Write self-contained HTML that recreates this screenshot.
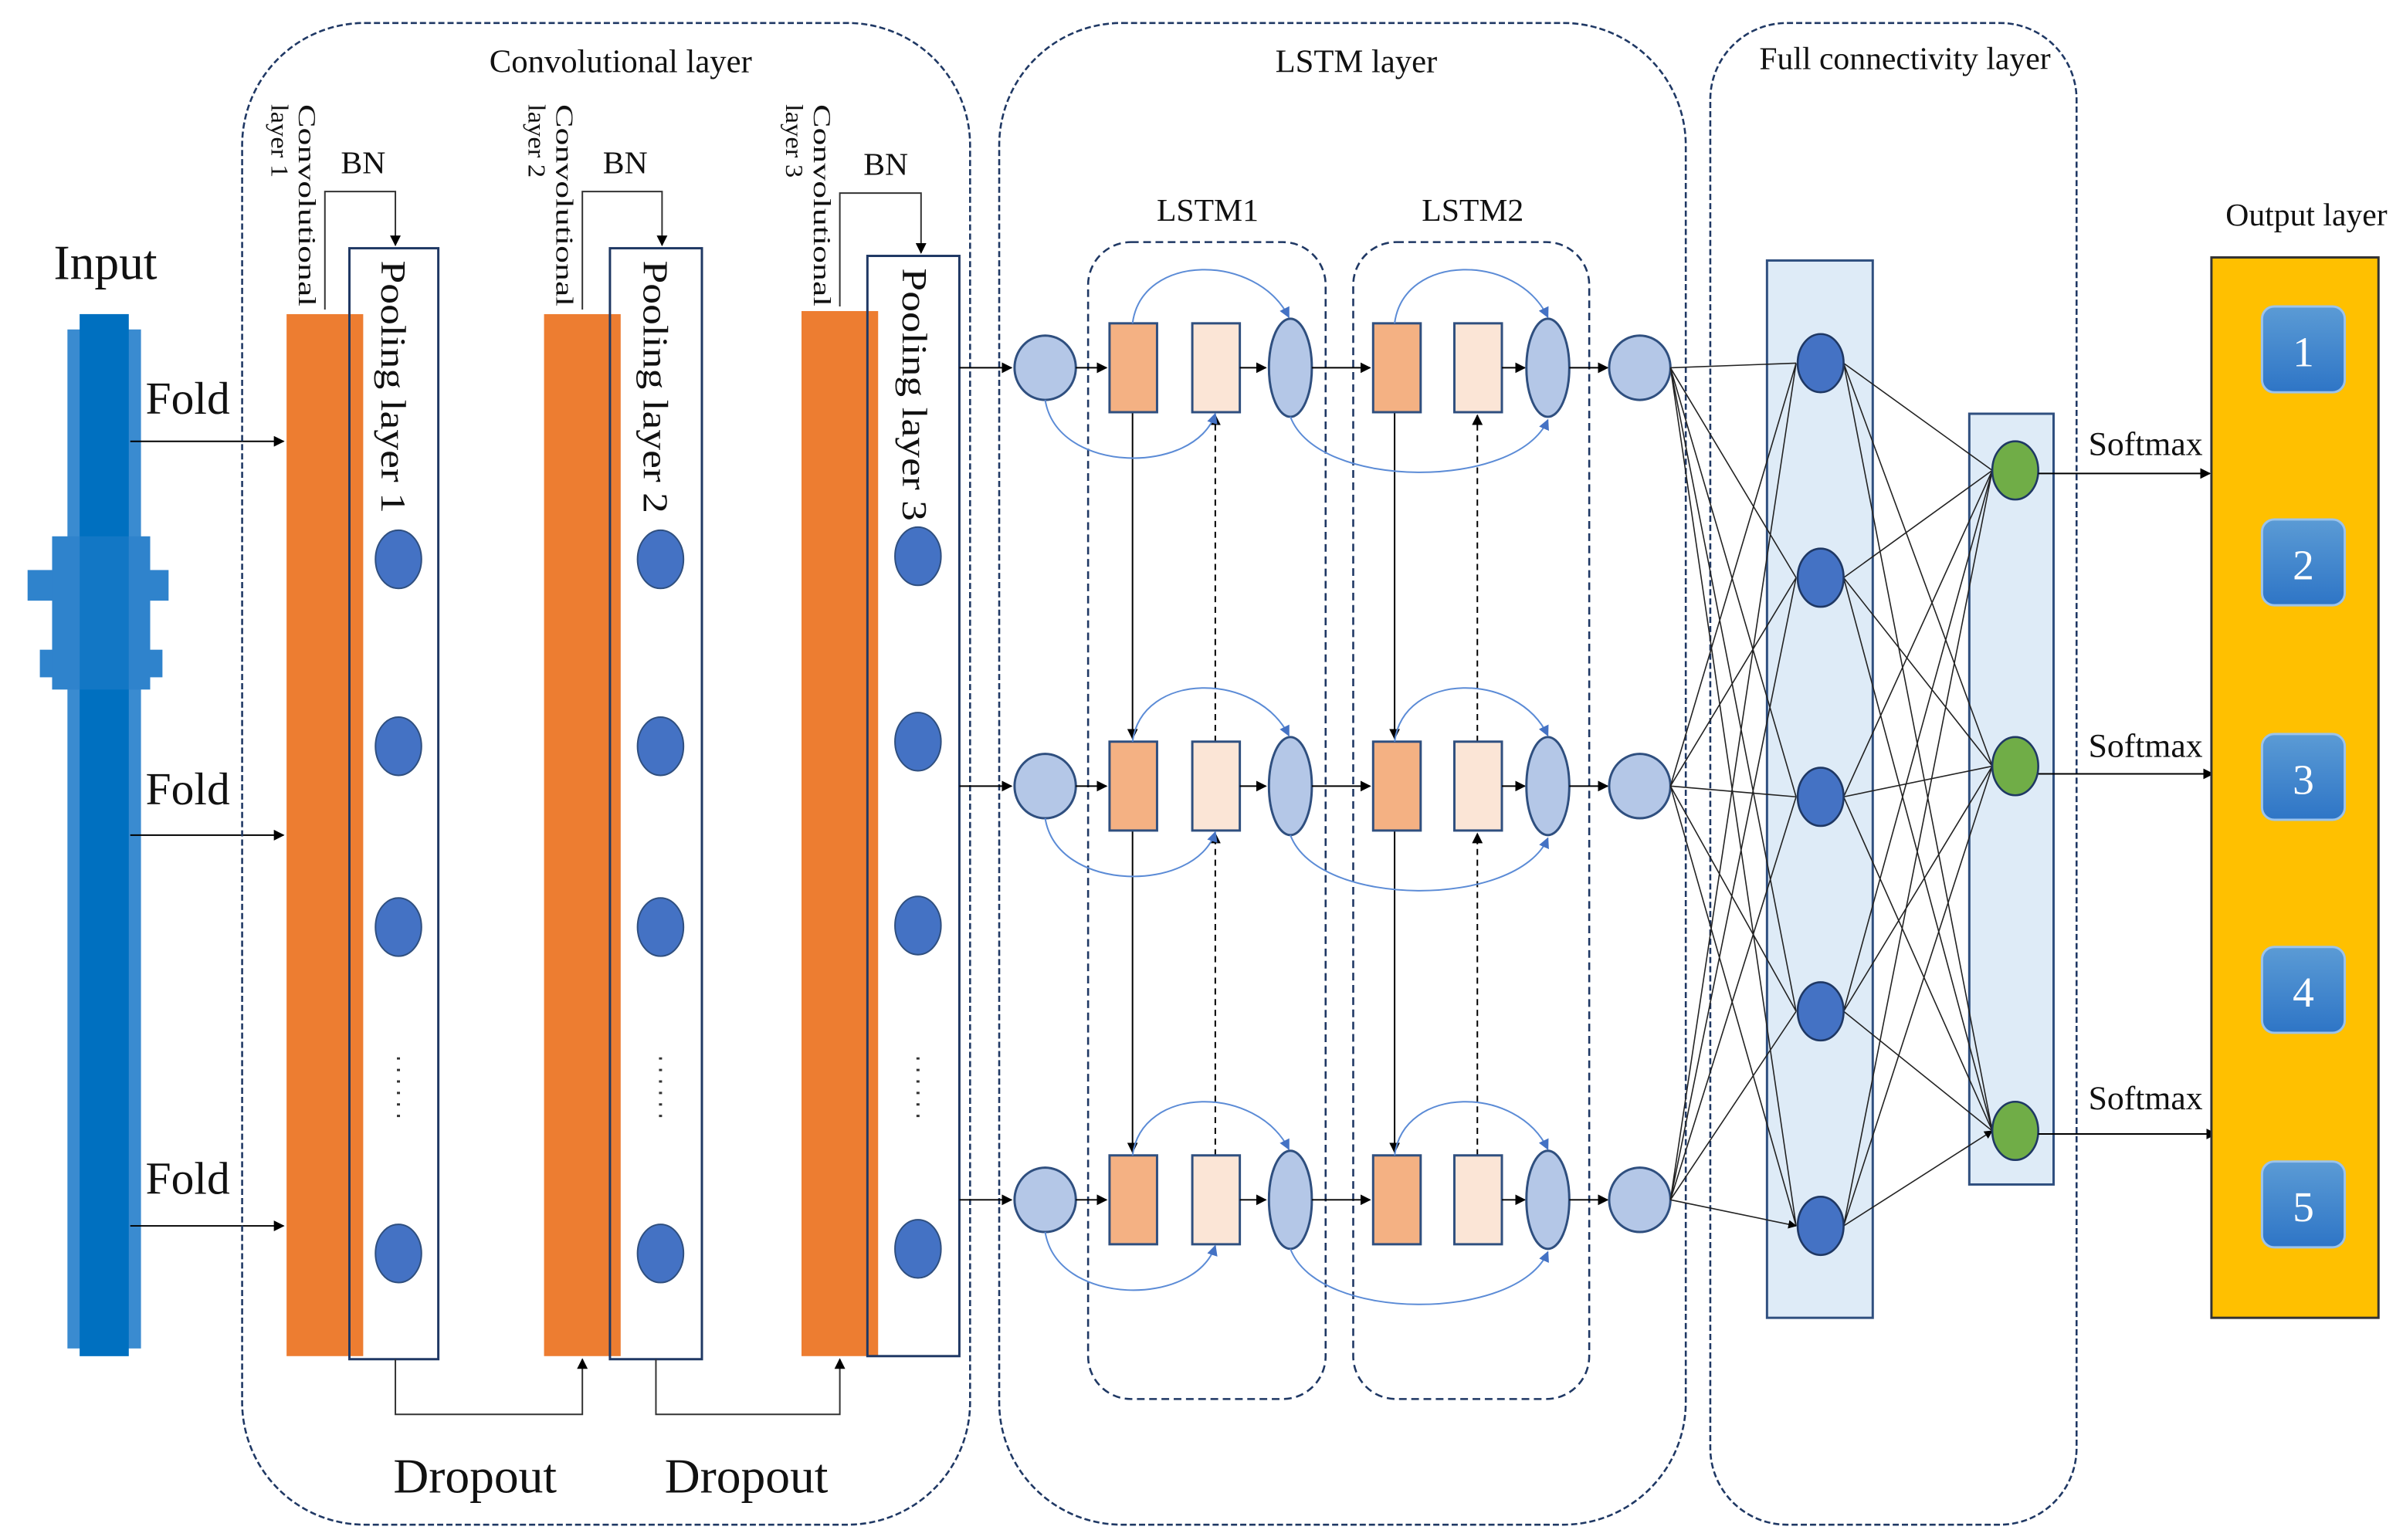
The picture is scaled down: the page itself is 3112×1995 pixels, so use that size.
<!DOCTYPE html>
<html><head><meta charset="utf-8"><style>
html,body{margin:0;padding:0;background:#fff;}
svg{display:block;}
text{font-family:"Liberation Serif",serif;fill:#111;}
</style></head><body>
<svg width="3112" height="1995" viewBox="0 0 1568 1005" preserveAspectRatio="none" xmlns="http://www.w3.org/2000/svg">
<defs>
<linearGradient id="g" x1="0" y1="0" x2="0" y2="1"><stop offset="0" stop-color="#5B9BD5"/><stop offset="1" stop-color="#2E75C6"/></linearGradient>
<marker id="a" viewBox="0 0 10 10" refX="9" refY="5" markerWidth="7" markerHeight="7" orient="auto"><path d="M0,0L10,5L0,10z" fill="#000"/></marker>
<marker id="b" viewBox="0 0 10 10" refX="9" refY="5" markerWidth="7" markerHeight="7" orient="auto"><path d="M0,0L10,5L0,10z" fill="#4472C4"/></marker>
<g id="row">
  <line x1="626" y1="0" x2="660" y2="0" stroke="#000" stroke-width="1" marker-end="url(#a)"/>
  <ellipse cx="682" cy="0" rx="20" ry="21" fill="#B4C7E7" stroke="#2F4F7F" stroke-width="1.5"/>
  <line x1="702" y1="0" x2="722" y2="0" stroke="#000" marker-end="url(#a)"/>
  <rect x="724" y="-29" width="31" height="58" fill="#F4B183" stroke="#2F4F7F" stroke-width="1.5"/>
  <rect x="778" y="-29" width="31" height="58" fill="#FBE5D6" stroke="#2F4F7F" stroke-width="1.5"/>
  <line x1="809" y1="0" x2="826" y2="0" stroke="#000" marker-end="url(#a)"/>
  <ellipse cx="842" cy="0" rx="14" ry="32" fill="#B4C7E7" stroke="#2F4F7F" stroke-width="1.5"/>
  <line x1="856" y1="0" x2="894" y2="0" stroke="#000" marker-end="url(#a)"/>
  <rect x="896" y="-29" width="31" height="58" fill="#F4B183" stroke="#2F4F7F" stroke-width="1.5"/>
  <rect x="949" y="-29" width="31" height="58" fill="#FBE5D6" stroke="#2F4F7F" stroke-width="1.5"/>
  <line x1="980" y1="0" x2="995" y2="0" stroke="#000" marker-end="url(#a)"/>
  <ellipse cx="1010" cy="0" rx="14" ry="32" fill="#B4C7E7" stroke="#2F4F7F" stroke-width="1.5"/>
  <line x1="1024" y1="0" x2="1049" y2="0" stroke="#000" marker-end="url(#a)"/>
  <ellipse cx="1070" cy="0" rx="20" ry="21" fill="#B4C7E7" stroke="#2F4F7F" stroke-width="1.5"/>
  <path d="M739,-29 C745,-75 820,-75 841,-33" fill="none" stroke="#5B8BD6" stroke-width="1" marker-end="url(#b)"/>
  <path d="M910,-29 C916,-75 990,-75 1010,-33" fill="none" stroke="#5B8BD6" stroke-width="1" marker-end="url(#b)"/>
  <path d="M682,21 C690,70 780,70 793,30" fill="none" stroke="#5B8BD6" stroke-width="1" marker-end="url(#b)"/>
  <path d="M842,32 C860,80 990,80 1010,34" fill="none" stroke="#5B8BD6" stroke-width="1" marker-end="url(#b)"/>
</g>
</defs>

<!-- waveform -->
<rect x="44" y="215" width="48" height="665" fill="#3A8BD0"/>
<rect x="52" y="205" width="32" height="680" fill="#0070C0"/>
<rect x="18" y="372" width="92" height="20" fill="#2F83CC"/>
<rect x="26" y="424" width="80" height="18" fill="#2F83CC"/>
<rect x="34" y="350" width="64" height="100" fill="#2F83CC"/>
<rect x="52" y="205" width="32" height="680" fill="#0070C0" opacity="0.6"/>
<text x="35" y="182" font-size="32">Input</text>
<text x="95" y="270" font-size="30">Fold</text>
<text x="95" y="525" font-size="30">Fold</text>
<text x="95" y="779" font-size="30">Fold</text>
<line x1="85" y1="288" x2="185" y2="288" stroke="#000" marker-end="url(#a)"/>
<line x1="85" y1="545" x2="185" y2="545" stroke="#000" marker-end="url(#a)"/>
<line x1="85" y1="800" x2="185" y2="800" stroke="#000" marker-end="url(#a)"/>

<!-- conv layer box -->
<rect x="158" y="15" width="475" height="980" rx="80" fill="none" stroke="#1F3864" stroke-width="1.3" stroke-dasharray="4,2"/>
<text x="405" y="47" font-size="21.5" text-anchor="middle">Convolutional layer</text>

<rect x="187" y="205" width="50" height="680" fill="#ED7D31"/>
<rect x="228" y="162" width="58" height="725" fill="none" stroke="#1F3864" stroke-width="1.5"/>
<text transform="translate(249,170) rotate(90)" font-size="23" textLength="165" lengthAdjust="spacingAndGlyphs">Pooling layer 1</text>
<text transform="translate(195,68) rotate(90)" font-size="16" textLength="132" lengthAdjust="spacingAndGlyphs">Convolutional</text>
<text transform="translate(177,68) rotate(90)" font-size="16" textLength="48" lengthAdjust="spacingAndGlyphs">layer 1</text>
<polyline points="212,202 212,125 258,125 258,160" fill="none" stroke="#333" marker-end="url(#a)"/>
<text x="237" y="113" font-size="21" text-anchor="middle">BN</text>
<ellipse cx="260" cy="365" rx="15" ry="19" fill="#4472C4" stroke="#2F4F7F"/>
<ellipse cx="260" cy="487" rx="15" ry="19" fill="#4472C4" stroke="#2F4F7F"/>
<ellipse cx="260" cy="605" rx="15" ry="19" fill="#4472C4" stroke="#2F4F7F"/>
<ellipse cx="260" cy="818" rx="15" ry="19" fill="#4472C4" stroke="#2F4F7F"/>
<line x1="260" y1="690" x2="260" y2="735" stroke="#333" stroke-width="2" stroke-dasharray="1.5,6"/>

<rect x="355" y="205" width="50" height="680" fill="#ED7D31"/>
<rect x="398" y="162" width="60" height="725" fill="none" stroke="#1F3864" stroke-width="1.5"/>
<text transform="translate(420,170) rotate(90)" font-size="23" textLength="165" lengthAdjust="spacingAndGlyphs">Pooling layer 2</text>
<text transform="translate(363,68) rotate(90)" font-size="16" textLength="132" lengthAdjust="spacingAndGlyphs">Convolutional</text>
<text transform="translate(345,68) rotate(90)" font-size="16" textLength="48" lengthAdjust="spacingAndGlyphs">layer 2</text>
<polyline points="380,202 380,125 432,125 432,160" fill="none" stroke="#333" marker-end="url(#a)"/>
<text x="408" y="113" font-size="21" text-anchor="middle">BN</text>
<ellipse cx="431" cy="365" rx="15" ry="19" fill="#4472C4" stroke="#2F4F7F"/>
<ellipse cx="431" cy="487" rx="15" ry="19" fill="#4472C4" stroke="#2F4F7F"/>
<ellipse cx="431" cy="605" rx="15" ry="19" fill="#4472C4" stroke="#2F4F7F"/>
<ellipse cx="431" cy="818" rx="15" ry="19" fill="#4472C4" stroke="#2F4F7F"/>
<line x1="431" y1="690" x2="431" y2="735" stroke="#333" stroke-width="2" stroke-dasharray="1.5,6"/>

<rect x="523" y="203" width="50" height="682" fill="#ED7D31"/>
<rect x="566" y="167" width="60" height="718" fill="none" stroke="#1F3864" stroke-width="1.5"/>
<text transform="translate(589,175) rotate(90)" font-size="23" textLength="165" lengthAdjust="spacingAndGlyphs">Pooling layer 3</text>
<text transform="translate(531,68) rotate(90)" font-size="16" textLength="132" lengthAdjust="spacingAndGlyphs">Convolutional</text>
<text transform="translate(513,68) rotate(90)" font-size="16" textLength="48" lengthAdjust="spacingAndGlyphs">layer 3</text>
<polyline points="548,200 548,126 601,126 601,165" fill="none" stroke="#333" marker-end="url(#a)"/>
<text x="578" y="114" font-size="21" text-anchor="middle">BN</text>
<ellipse cx="599" cy="363" rx="15" ry="19" fill="#4472C4" stroke="#2F4F7F"/>
<ellipse cx="599" cy="484" rx="15" ry="19" fill="#4472C4" stroke="#2F4F7F"/>
<ellipse cx="599" cy="604" rx="15" ry="19" fill="#4472C4" stroke="#2F4F7F"/>
<ellipse cx="599" cy="815" rx="15" ry="19" fill="#4472C4" stroke="#2F4F7F"/>
<line x1="599" y1="690" x2="599" y2="735" stroke="#333" stroke-width="2" stroke-dasharray="1.5,6"/>

<polyline points="258,887 258,923 380,923 380,887" fill="none" stroke="#333" marker-end="url(#a)"/>
<polyline points="428,887 428,923 548,923 548,887" fill="none" stroke="#333" marker-end="url(#a)"/>
<text x="310" y="974" font-size="32" text-anchor="middle">Dropout</text>
<text x="487" y="974" font-size="32" text-anchor="middle">Dropout</text>

<!-- LSTM layer -->
<rect x="652" y="15" width="448" height="980" rx="80" fill="none" stroke="#1F3864" stroke-width="1.3" stroke-dasharray="4,2"/>
<text x="885" y="47" font-size="21.5" text-anchor="middle">LSTM layer</text>
<rect x="710" y="158" width="155" height="755" rx="28" fill="none" stroke="#1F3864" stroke-width="1.3" stroke-dasharray="5,3"/>
<rect x="883" y="158" width="154" height="755" rx="28" fill="none" stroke="#1F3864" stroke-width="1.3" stroke-dasharray="5,3"/>
<text x="788" y="144" font-size="21" text-anchor="middle">LSTM1</text>
<text x="961" y="144" font-size="21" text-anchor="middle">LSTM2</text>

<line x1="739" y1="269" x2="739" y2="482" stroke="#000" marker-end="url(#a)"/>
<line x1="739" y1="542" x2="739" y2="752" stroke="#000" marker-end="url(#a)"/>
<line x1="910" y1="269" x2="910" y2="482" stroke="#000" marker-end="url(#a)"/>
<line x1="910" y1="542" x2="910" y2="752" stroke="#000" marker-end="url(#a)"/>
<line x1="793" y1="484" x2="793" y2="271" stroke="#000" stroke-dasharray="4,3" marker-end="url(#a)"/>
<line x1="793" y1="754" x2="793" y2="544" stroke="#000" stroke-dasharray="4,3" marker-end="url(#a)"/>
<line x1="964" y1="484" x2="964" y2="271" stroke="#000" stroke-dasharray="4,3" marker-end="url(#a)"/>
<line x1="964" y1="754" x2="964" y2="544" stroke="#000" stroke-dasharray="4,3" marker-end="url(#a)"/>

<use href="#row" transform="translate(0,240)"/>
<use href="#row" transform="translate(0,513)"/>
<use href="#row" transform="translate(0,783)"/>

<!-- FC layer -->
<rect x="1116" y="15" width="239" height="980" rx="50" fill="none" stroke="#1F3864" stroke-width="1.3" stroke-dasharray="4,2"/>
<text x="1243" y="45" font-size="21" text-anchor="middle">Full connectivity layer</text>
<rect x="1153" y="170" width="69" height="690" fill="#DEEBF7" stroke="#2F4F7F" stroke-width="1.5"/>
<rect x="1285" y="270" width="55" height="503" fill="#DEEBF7" stroke="#2F4F7F" stroke-width="1.5"/>

<g stroke="#222" stroke-width="0.8" fill="none">
<path d="M1090,240L1172,237M1090,240L1172,377M1090,240L1172,520M1090,240L1172,660M1090,240L1172,800
M1090,513L1172,237M1090,513L1172,377M1090,513L1172,520M1090,513L1172,660M1090,513L1172,800
M1090,783L1172,237M1090,783L1172,377M1090,783L1172,520M1090,783L1172,660M1090,783L1172,800" marker-end="url(#a)"/>
<path d="M1203,237L1300,307M1203,237L1300,500M1203,237L1300,738
M1203,377L1300,307M1203,377L1300,500M1203,377L1300,738
M1203,520L1300,307M1203,520L1300,500M1203,520L1300,738
M1203,660L1300,307M1203,660L1300,500M1203,660L1300,738
M1203,800L1300,307M1203,800L1300,500M1203,800L1300,738" marker-end="url(#a)"/>
</g>
<g fill="#4472C4" stroke="#1F3864" stroke-width="1.3">
<ellipse cx="1188" cy="237" rx="15" ry="19"/><ellipse cx="1188" cy="377" rx="15" ry="19"/>
<ellipse cx="1188" cy="520" rx="15" ry="19"/><ellipse cx="1188" cy="660" rx="15" ry="19"/>
<ellipse cx="1188" cy="800" rx="15" ry="19"/>
</g>
<g fill="#70AD47" stroke="#1F3864" stroke-width="1.3">
<ellipse cx="1315" cy="307" rx="15" ry="19"/><ellipse cx="1315" cy="500" rx="15" ry="19"/><ellipse cx="1315" cy="738" rx="15" ry="19"/>
</g>
<line x1="1330" y1="309" x2="1442" y2="309" stroke="#000" marker-end="url(#a)"/>
<line x1="1330" y1="505" x2="1444" y2="505" stroke="#000" marker-end="url(#a)"/>
<line x1="1330" y1="740" x2="1446" y2="740" stroke="#000" marker-end="url(#a)"/>
<text x="1400" y="297" font-size="22" text-anchor="middle">Softmax</text>
<text x="1400" y="494" font-size="22" text-anchor="middle">Softmax</text>
<text x="1400" y="724" font-size="22" text-anchor="middle">Softmax</text>

<!-- output -->
<text x="1505" y="147" font-size="21" text-anchor="middle">Output layer</text>
<rect x="1443" y="168" width="109" height="692" fill="#FFC000" stroke="#333" stroke-width="1.5"/>
<g fill="url(#g)" stroke="#9CC3EA" stroke-width="1.5">
<rect x="1476" y="200" width="54" height="56" rx="8"/><rect x="1476" y="339" width="54" height="56" rx="8"/>
<rect x="1476" y="479" width="54" height="56" rx="8"/><rect x="1476" y="618" width="54" height="56" rx="8"/>
<rect x="1476" y="758" width="54" height="56" rx="8"/>
</g>
<g font-size="28" text-anchor="middle">
<text x="1503" y="239" style="fill:#fff">1</text><text x="1503" y="378" style="fill:#fff">2</text>
<text x="1503" y="518" style="fill:#fff">3</text><text x="1503" y="657" style="fill:#fff">4</text>
<text x="1503" y="797" style="fill:#fff">5</text>
</g>
</svg>
</body></html>
